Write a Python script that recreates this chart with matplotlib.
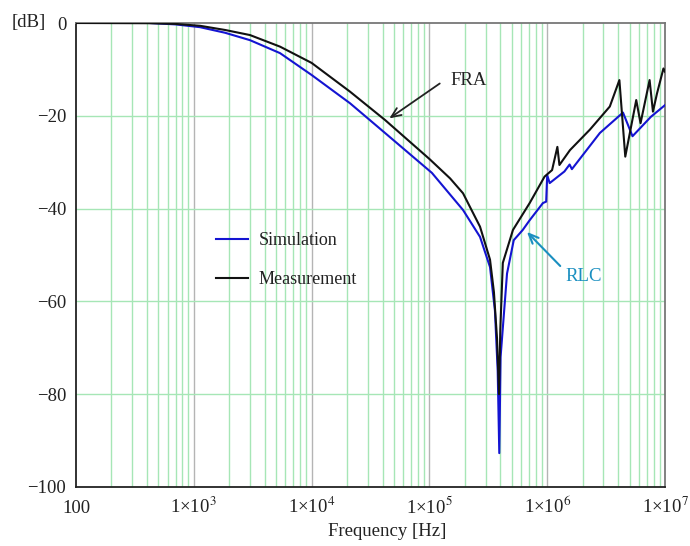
import matplotlib
matplotlib.use("Agg")
import matplotlib.pyplot as plt
from matplotlib.ticker import FixedLocator, NullFormatter

plt.rcParams['font.family'] = ['Liberation Serif', 'DejaVu Serif']
plt.rcParams['mathtext.fontset'] = 'stix'

# ---- data ----
freq_meas = [100, 420, 700, 1130, 1840, 3000, 5400, 1.0e4, 2.12e4, 4.2e4,
             1.0e5, 1.5e5, 1.93e5, 2.69e5, 3.27e5, 3.53e5, 3.75e5, 3.9e5,
             4.0e5, 4.2e5, 5.12e5, 7.1e5, 9.5e5, 1.1e6, 1.22e6, 1.27e6,
             1.56e6, 2.3e6, 3.4e6, 4.1e6, 4.6e6, 5.7e6, 6.2e6, 7.4e6,
             7.9e6, 8.55e6, 9.7e6, 1.0e7]
db_meas = [0, -0.05, -0.2, -0.6, -1.5, -2.6, -5.1, -8.6, -14.8, -20.9,
           -29.3, -33.5, -36.7, -43.9, -51.0, -58.0, -68.0, -80.0,
           -66.0, -51.7, -44.6, -38.8, -33.1, -31.7, -26.7, -30.6,
           -27.4, -23.0, -18.0, -12.3, -28.8, -16.6, -21.6, -12.3,
           -19.1, -15.2, -9.8, -10.5]

freq_sim = [420, 700, 1130, 1840, 3000, 5400, 1.0e4, 2.12e4, 4.2e4,
            1.05e5, 1.93e5, 2.69e5, 3.27e5, 3.6e5, 3.8e5, 3.92e5, 4.02e5,
            4.56e5, 5.2e5, 6.2e5, 7.1e5, 9.2e5, 9.8e5, 1.0e6, 1.05e6,
            1.4e6, 1.55e6, 1.62e6, 2.8e6, 4.4e6, 5.3e6, 7.6e6, 1.0e7]
db_sim = [0, -0.3, -0.9, -2.1, -3.7, -6.5, -11.2, -17.3, -23.7,
          -32.3, -40.3, -46.1, -52.6, -62.0, -75.0, -92.7, -72.0,
          -54.0, -46.8, -44.6, -42.5, -38.8, -38.5, -32.8, -34.5,
          -32.0, -30.5, -31.5, -23.7, -19.3, -24.4, -20.2, -17.7]

x_ticks = [1e2, 1e3, 1e4, 1e5, 1e6, 1e7]
x_tick_labels = ['100', r'1×10$^{3}$', r'1×10$^{4}$', r'1×10$^{5}$',
                 r'1×10$^{6}$', r'1×10$^{7}$']
y_ticks = [0, -20, -40, -60, -80, -100]
y_tick_labels = ['0', '−20', '−40', '−60', '−80', '−100']

# ---- figure ----
fig = plt.figure(figsize=(6.9, 5.46), dpi=100)
ax = fig.add_axes([76/690, 1-487/546, (665-76)/690, (487-23)/546])
ax.set_xscale('log')
ax.set_xlim(1e2, 1e7)
ax.set_ylim(-100, 0)

green = '#a6e6b6'
gray = '#b4b4b4'
# grid
minor = [m * 10**e for e in range(2, 7) for m in range(2, 10)]
for xv in minor:
    ax.axvline(xv, color=green, lw=1.0, zorder=0)
for xv in x_ticks[1:-1]:
    ax.axvline(xv, color=gray, lw=1.0, zorder=0)
for yv in y_ticks[1:-1]:
    ax.axhline(yv, color=green, lw=1.0, zorder=0)

l1, = ax.plot(freq_sim, db_sim, color='#1414d2', lw=1.5, label='Simulation', zorder=3)
l2, = ax.plot(freq_meas, db_meas, color='#111111', lw=1.5, label='Measurement', zorder=4)

ax.xaxis.set_major_locator(FixedLocator(x_ticks))
ax.xaxis.set_minor_locator(FixedLocator(minor))
ax.xaxis.set_minor_formatter(NullFormatter())
ax.set_xticklabels(x_tick_labels)
ax.set_yticks(y_ticks)
ax.set_yticklabels(y_tick_labels)
ax.tick_params(which='both', length=0, labelsize=13.5, colors='#222222')
ax.tick_params(axis='x', pad=19)
ax.tick_params(axis='y', pad=7)
for lbl in ax.get_xticklabels():
    lbl.set_verticalalignment('baseline')

for s in ['left', 'bottom']:
    ax.spines[s].set_color('#222222')
    ax.spines[s].set_linewidth(1.3)
for s in ['top', 'right']:
    ax.spines[s].set_color('#777777')
    ax.spines[s].set_linewidth(1.3)

fig.text(387/690, 1-532/546, 'Frequency [Hz]', ha='center', va='center',
         fontsize=13.5, color='#222222')
fig.text(12/690, 1-23/546, '[dB]', ha='left', va='center', fontsize=13.5,
         color='#222222')

leg = ax.legend(handles=[l1, l2], loc='upper left',
                bbox_to_anchor=(200/690, 1-216/546), bbox_transform=fig.transFigure,
                frameon=False, fontsize=13, labelspacing=1.2,
                handlelength=1.75, handletextpad=0.6)
for t in leg.get_texts():
    t.set_color('#222222')

# annotations
ax.annotate('', xy=(4.37e4, -20.9), xytext=(1.28e5, -12.7),
            arrowprops=dict(arrowstyle='->,head_length=0.7,head_width=0.3',
                            color='#222222', lw=1.3))
ax.text(1.5e5, -12.3, 'FRA', ha='left', va='center', fontsize=13.5, color='#222222')

teal = '#1a8fc0'
ax.annotate('', xy=(6.48e5, -44.6), xytext=(1.34e6, -52.8),
            arrowprops=dict(arrowstyle='->,head_length=0.7,head_width=0.3',
                            color=teal, lw=1.5))
ax.text(1.42e6, -54.7, 'RLC', ha='left', va='center', fontsize=13.5, color=teal)

fig.savefig('out.png', dpi=100)
